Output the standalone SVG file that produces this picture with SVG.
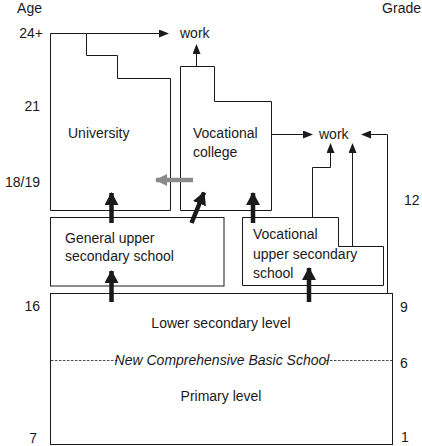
<svg xmlns="http://www.w3.org/2000/svg" width="422" height="446" viewBox="0 0 422 446">
<style>
text{font-family:"Liberation Sans",Arial,sans-serif;font-size:14px;fill:#1a1a1a}
.box{fill:none;stroke:#1a1a1a;stroke-width:1}
.ln{fill:none;stroke:#1a1a1a;stroke-width:1}
.thick{stroke:#1a1a1a;stroke-width:4.5;fill:none}
.gray{stroke:#8a8a8a;stroke-width:4.5;fill:none}
.dash{stroke:#1a1a1a;stroke-width:0.8;stroke-dasharray:2.5 1.5}
.mid{text-anchor:middle}
.end{text-anchor:end}
</style>
<defs>
<marker id="ah" markerUnits="userSpaceOnUse" markerWidth="10" markerHeight="8" refX="9" refY="4" orient="auto">
<path d="M0,0 L10,4 L0,8 Z" fill="#1a1a1a"/>
</marker>
<marker id="big" markerUnits="userSpaceOnUse" markerWidth="13" markerHeight="14" refX="12" refY="7" orient="auto">
<path d="M0,0 L13,7 L0,14 Z" fill="#1a1a1a"/>
</marker>
<marker id="bigg" markerUnits="userSpaceOnUse" markerWidth="12" markerHeight="12" refX="11" refY="6" orient="auto">
<path d="M0,0 L12,6 L0,12 Z" fill="#8a8a8a"/>
</marker>
</defs>

<g id="axis-age">
<text x="42" y="13" class="end">Age</text>
<text x="43" y="37.5" class="end">24+</text>
<text x="40" y="110.5" class="end">21</text>
<text x="40" y="187" class="end">18/19</text>
<text x="40" y="310.5" class="end">16</text>
<text x="37" y="443" class="end">7</text>
</g>
<g id="axis-grade">
<text x="421" y="13" class="end">Grade</text>
<text x="404" y="205">12</text>
<text x="400" y="312">9</text>
<text x="400" y="368">6</text>
<text x="401" y="442">1</text>
</g>

<g id="university">
<path class="box" d="M50.5,33.5 H86.5 V55.5 H117.5 V78.5 H170.5 V210.5 H50.5 Z"/>
<text x="68" y="138">University</text>
</g>
<g id="vocational-college">
<path class="box" d="M180.5,66.5 H214.5 V101.5 H271.5 V210.5 H180.5 Z"/>
<text x="193" y="138">Vocational</text>
<text x="193" y="157">college</text>
</g>
<g id="general-upper-secondary">
<rect class="box" x="50.5" y="217.5" width="173.5" height="68.5"/>
<text x="65" y="243">General upper</text>
<text x="65" y="261">secondary school</text>
</g>
<g id="vocational-upper-secondary">
<path class="box" d="M242.5,217.5 H338.5 V246.5 H383.5 V285.5 H242.5 Z"/>
<text x="253" y="239">Vocational</text>
<text x="253" y="259">upper secondary</text>
<text x="253" y="278">school</text>
</g>
<g id="basic-school">
<rect class="box" x="50.5" y="293.5" width="342" height="151"/>
<text x="221" y="328" class="mid">Lower secondary level</text>
<line class="dash" x1="51" y1="360.5" x2="118" y2="360.5"/>
<line class="dash" x1="326" y1="360.5" x2="392" y2="360.5"/>
<text x="222" y="365" class="mid" font-style="italic" font-size="13">New Comprehensive Basic School</text>
<text x="221" y="401" class="mid">Primary level</text>
</g>
<g id="work-top">
<text x="180" y="37.5">work</text>
</g>
<g id="work-right">
<text x="319" y="138.5">work</text>
</g>

<g id="connectors">
<line class="ln" x1="86.5" y1="33.5" x2="168" y2="33.5" marker-end="url(#ah)"/>
<line class="ln" x1="196.5" y1="66" x2="196.5" y2="45" marker-end="url(#ah)"/>
<line class="ln" x1="271.5" y1="134.5" x2="312" y2="134.5" marker-end="url(#ah)"/>
<path class="ln" d="M387.5,293 V134.5 H362" marker-end="url(#ah)"/>
<path class="ln" d="M312.5,217.5 V167.5 H330.5 V144" marker-end="url(#ah)"/>
<line class="ln" x1="352.5" y1="246.5" x2="352.5" y2="144" marker-end="url(#ah)"/>
<line class="gray" x1="193" y1="180" x2="156" y2="180" marker-end="url(#bigg)"/>
<line class="thick" x1="111.5" y1="223" x2="111.5" y2="193" marker-end="url(#big)"/>
<line class="thick" x1="191.5" y1="223" x2="204" y2="192.5" marker-end="url(#big)"/>
<line class="thick" x1="253" y1="223" x2="253" y2="193" marker-end="url(#big)"/>
<line class="thick" x1="111.5" y1="302" x2="111.5" y2="271" marker-end="url(#big)"/>
<line class="thick" x1="309" y1="302" x2="309" y2="268" marker-end="url(#big)"/>
</g>
</svg>
